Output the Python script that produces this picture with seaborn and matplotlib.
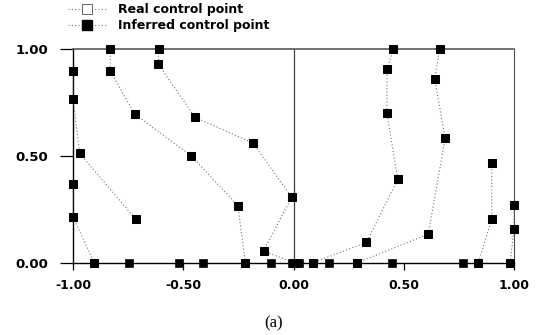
import numpy as np
import pandas as pd
import matplotlib
matplotlib.use("Agg")
import matplotlib.pyplot as plt
from matplotlib.lines import Line2D
import seaborn as sns

# ---- data: inferred control-point polygons (x, y) ----
c1_x = [-1.0, -1.0, -0.97, -0.716]
c1_y = [0.897, 0.767, 0.512, 0.204]
c2_x = [-1.0, -1.0, -0.904]
c2_y = [0.368, 0.214, 0.0]
c3_x = [-0.831, -0.831, -0.721, -0.464, -0.252, -0.219]
c3_y = [1.0, 0.897, 0.697, 0.50, 0.267, 0.0]
c4_x = [-0.612, -0.613, -0.446, -0.184, -0.008, -0.136, 0.0]
c4_y = [1.0, 0.928, 0.680, 0.560, 0.307, 0.055, 0.0]
c5_x = [0.453, 0.425, 0.423, 0.473, 0.331, 0.088]
c5_y = [1.0, 0.905, 0.702, 0.390, 0.095, 0.0]
c6_x = [0.663, 0.640, 0.688, 0.611, 0.289]
c6_y = [1.0, 0.860, 0.582, 0.134, 0.0]
c7_x = [0.899, 0.899, 0.839]
c7_y = [0.468, 0.206, 0.0]
c8_x = [1.0, 1.0, 0.982]
c8_y = [0.268, 0.156, 0.0]
# remaining end points lying on the bottom edge
end_x = [-0.745, -0.521, -0.411, -0.10, -0.006, 0.015, 0.027, 0.16, 0.447, 0.767]
end_y = [0.0, 0.0, 0.0, 0.0, 0.0, 0.0, 0.0, 0.0, 0.0, 0.0]

xticks = [-1.0, -0.5, 0.0, 0.5, 1.0]
yticks = [0.0, 0.5, 1.0]
xtick_labels = ["-1.00", "-0.50", "0.00", "0.50", "1.00"]
ytick_labels = ["0.00", "0.50", "1.00"]
legend_labels = ["Real control point", "Inferred control point"]
caption = "(a)"

curves = [(c1_x, c1_y), (c2_x, c2_y), (c3_x, c3_y), (c4_x, c4_y),
          (c5_x, c5_y), (c6_x, c6_y), (c7_x, c7_y), (c8_x, c8_y)]
rows = []
for i, (xs, ys) in enumerate(curves):
    for j, (a, b) in enumerate(zip(xs, ys)):
        rows.append({"curve": i, "order": j, "x": a, "y": b})
df = pd.DataFrame(rows)
df_end = pd.DataFrame({"x": end_x, "y": end_y})

sns.set_style("white")
plt.rcParams["font.family"] = ["DejaVu Sans"]
plt.rcParams["text.color"] = "black"
plt.rcParams["xtick.color"] = "black"
plt.rcParams["ytick.color"] = "black"

fig = plt.figure(figsize=(5.41, 3.35), dpi=100)
ax = fig.add_axes([73 / 541, 1 - 262.7 / 335, (514 - 73) / 541, (262.7 - 49) / 335])

ax.axvline(0.0, color="0.25", lw=0.9, zorder=1)

sns.lineplot(data=df, x="x", y="y", units="curve", estimator=None, sort=False,
             ax=ax, color="0.45", lw=0.8, linestyle=(0, (1, 2)),
             marker="s", markersize=5.8, markerfacecolor="black",
             markeredgecolor="black", clip_on=False, zorder=3, legend=False)
sns.scatterplot(data=df_end, x="x", y="y", ax=ax, marker="s", s=33,
                color="black", edgecolor="black", clip_on=False, zorder=3,
                legend=False)

ax.set_xlim(-1.0, 1.0)
ax.set_ylim(0.0, 1.0)
ax.set_xticks(xticks)
ax.set_xticklabels(xtick_labels, fontsize=9, fontweight="bold", color="black")
ax.set_yticks(yticks)
ax.set_yticklabels(ytick_labels, fontsize=9.5, fontweight="bold", color="black")
ax.set_xlabel("")
ax.set_ylabel("")
ax.tick_params(axis="y", direction="out", length=9.5, width=0.9, pad=8.5,
               left=True, color="black", labelcolor="black")
ax.tick_params(axis="x", direction="out", length=5, width=0.9, pad=7,
               bottom=True, color="black", labelcolor="black")
for s in ax.spines.values():
    s.set_visible(True)
    s.set_color("black")
    s.set_linewidth(1.0)
ax.spines["top"].set_color("0.35")
ax.spines["top"].set_linewidth(1.2)
ax.spines["right"].set_color("0.3")
ax.spines["right"].set_linewidth(0.8)

handles = [
    Line2D([], [], color="0.45", lw=0.8, linestyle=(0, (1, 2)), marker="s",
           markersize=7, markerfacecolor="white", markeredgecolor="0.3",
           markeredgewidth=0.6),
    Line2D([], [], color="0.45", lw=0.8, linestyle=(0, (1, 2)), marker="s",
           markersize=7, markerfacecolor="black", markeredgecolor="black"),
]
fig.legend(handles, legend_labels, loc="upper left",
           bbox_to_anchor=(68 / 541, 1 - 3 / 335), frameon=False,
           prop={"size": 9, "weight": "bold"}, handlelength=3.0,
           handletextpad=1.0, labelspacing=0.25, borderaxespad=0.0,
           borderpad=0.0)

fig.text(273.5 / 541, 1 - 323 / 335, caption, ha="center", va="center",
         fontsize=12, color="black", family=["Liberation Serif", "DejaVu Serif"])

fig.savefig("out.png", dpi=100)
